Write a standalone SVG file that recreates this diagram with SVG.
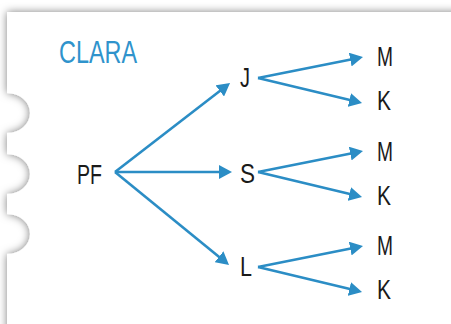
<svg xmlns="http://www.w3.org/2000/svg" width="451" height="324" viewBox="0 0 451 324">
<style>
.lbl{font-family:"Liberation Sans",Arial,sans-serif;font-size:27px;fill:#1a1a1a}
.title{font-family:"Liberation Sans",Arial,sans-serif;font-size:32px;fill:#2f93cc}
.con line{stroke:#2b8dc5;stroke-width:2.6;fill:none;marker-end:url(#arr)}
</style>
<defs>
<filter id="sh" x="-10%" y="-10%" width="120%" height="120%">
<feDropShadow dx="0" dy="0" stdDeviation="4.5" flood-color="#000" flood-opacity="0.5"/>
</filter>
<marker id="arr" markerUnits="userSpaceOnUse" markerWidth="14" markerHeight="14" refX="7" refY="7" orient="auto">
<path d="M0,0 L13,7 L0,14 Z" fill="#2b8dc5"/>
</marker>
</defs>
<rect width="451" height="324" fill="#fff"/>
<path id="card" d="M7 12 H470 V340 H7 V254 A23 20 0 0 0 7 214 V194 A23 20 0 0 0 7 154 V133 A23 20 0 0 0 7 93 Z" fill="#fff" filter="url(#sh)"/>
<text class="title" x="59" y="63" textLength="78" lengthAdjust="spacingAndGlyphs">CLARA</text>
<g class="con" id="connectors">
<line x1="115" y1="172" x2="225.3" y2="86.7"/>
<line x1="115" y1="172" x2="226" y2="172"/>
<line x1="115" y1="172" x2="224.4" y2="261.2"/>
<line x1="258" y1="78" x2="357.1" y2="58.2"/>
<line x1="258" y1="78" x2="356.2" y2="101.6"/>
<line x1="258" y1="172" x2="357.1" y2="152.2"/>
<line x1="258" y1="172" x2="356.2" y2="195.6"/>
<line x1="258" y1="267" x2="357.1" y2="247.2"/>
<line x1="258" y1="267" x2="356.2" y2="290.6"/>
</g>
<g id="PF"><text class="lbl" x="77" y="184" textLength="25" lengthAdjust="spacingAndGlyphs">PF</text></g>
<g id="J"><text class="lbl" x="240" y="87" textLength="10" lengthAdjust="spacingAndGlyphs">J</text></g>
<g id="S"><text class="lbl" x="240" y="183" textLength="15" lengthAdjust="spacingAndGlyphs">S</text></g>
<g id="L"><text class="lbl" x="240" y="276" textLength="12" lengthAdjust="spacingAndGlyphs">L</text></g>
<g id="J_M"><text class="lbl" x="377" y="66" textLength="16" lengthAdjust="spacingAndGlyphs">M</text></g>
<g id="J_K"><text class="lbl" x="377" y="110" textLength="14" lengthAdjust="spacingAndGlyphs">K</text></g>
<g id="S_M"><text class="lbl" x="377" y="161" textLength="16" lengthAdjust="spacingAndGlyphs">M</text></g>
<g id="S_K"><text class="lbl" x="377" y="205" textLength="14" lengthAdjust="spacingAndGlyphs">K</text></g>
<g id="L_M"><text class="lbl" x="377" y="255" textLength="16" lengthAdjust="spacingAndGlyphs">M</text></g>
<g id="L_K"><text class="lbl" x="377" y="299" textLength="14" lengthAdjust="spacingAndGlyphs">K</text></g>
</svg>
